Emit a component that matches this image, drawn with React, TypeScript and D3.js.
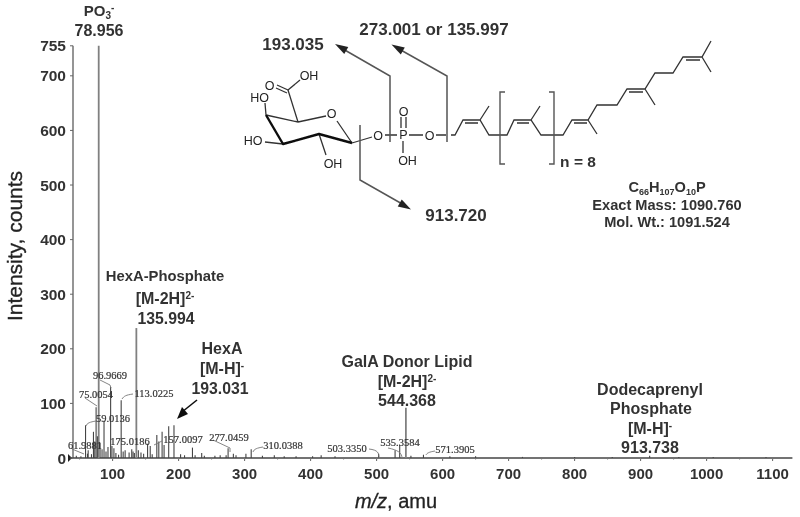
import React from "react";
import * as d3 from "d3";

const xTicks = [100, 200, 300, 400, 500, 600, 700, 800, 900, 1000, 1100];
const yTicks = [0, 100, 200, 300, 400, 500, 600, 700, 755];
const mainMz = [78.956, 135.994, 544.368];
const mainInt = [755, 238, 92];
const peakMz = [45, 52, 59, 61.9, 63, 68, 71, 73, 75, 77, 81, 84, 87, 90, 93, 97, 99, 102, 105, 109, 113, 116, 119, 125, 129, 131, 133, 139, 143, 147, 153, 157, 160, 167, 170, 175, 178, 185, 193, 203, 209, 221, 225, 235, 239, 255, 263, 272, 275, 283, 287, 302, 310, 327, 345, 360, 378, 403, 416, 437, 503, 528, 535, 552, 571, 611, 650, 721, 800, 857, 913.7, 958, 1010, 1090];
const peakInt = [4, 3, 60, 8, 14, 7, 48, 30, 93, 40, 28, 16, 68, 12, 20, 130, 22, 18, 9, 6, 106, 12, 14, 10, 16, 12, 9, 14, 10, 8, 26, 22, 7, 42, 30, 48, 24, 58, 60, 7, 5, 19, 5, 9, 4, 4, 5, 5, 18, 8, 5, 8, 16, 4, 5, 3, 3, 3, 5, 3, 8, 14, 24, 4, 6, 3, 3, 2, 2, 2, 4, 2, 2, 2];
const smallLabels = ["96.9669", "75.0054", "113.0225", "59.0136", "61.9881", "175.0186", "157.0097", "277.0459", "310.0388", "503.3350", "535.3584", "571.3905"];
const smallLabelX = [110, 96, 154, 113, 85, 130, 183, 229, 283, 347, 400, 455];
const smallLabelY = [379, 398, 397, 422, 449, 445, 443, 441, 449, 452, 446, 453];
const leaders = [
  "M100 380 L110 385 L111 388", "M85 398 L97 406", "M133 394 C126 395 124 396 122 399",
  "M96 421 C90 422 87 423 86 426", "M72 449 L84 454", "M162 441 L154 445", "M213 440 L230 448 L230 452",
  "M263 447 C257 448 254 449 253 452", "M369 449 C378 450 379 453 379 458",
  "M388 448 C398 450 402 453 402 458", "M435 451 C429 452 427 453 426 455",
];
const bold = [
  { t: "HexA-Phosphate", x: 165, y: 281, s: 14.8 }, { t: "135.994", x: 166, y: 324, s: 15.8 },
  { t: "HexA", x: 222, y: 354, s: 16 }, { t: "193.031", x: 220, y: 394, s: 15.8 },
  { t: "GalA Donor Lipid", x: 407, y: 367, s: 16 }, { t: "544.368", x: 407, y: 406, s: 16 },
  { t: "Dodecaprenyl", x: 650, y: 395, s: 16 }, { t: "Phosphate", x: 651, y: 414, s: 16 },
  { t: "913.738", x: 650, y: 453, s: 16 }, { t: "78.956", x: 99, y: 36, s: 16 },
  { t: "193.035", x: 293, y: 50, s: 17 }, { t: "273.001 or 135.997", x: 434, y: 35, s: 17 },
  { t: "913.720", x: 456, y: 221, s: 17 }, { t: "n = 8", x: 578, y: 167, s: 15.5 },
  { t: "Exact Mass: 1090.760", x: 667, y: 210, s: 14.6 }, { t: "Mol. Wt.: 1091.524", x: 667, y: 227, s: 14.6 },
];
const sup = [
  { a: "[M-2H]", b: "2-", x: 165, y: 304 }, { a: "[M-H]", b: "-", x: 222, y: 374 },
  { a: "[M-2H]", b: "2-", x: 407, y: 387 }, { a: "[M-H]", b: "-", x: 650, y: 434 },
];
const atoms = [
  { t: "O", x: 269.5, y: 85 }, { t: "OH", x: 309, y: 75.5 }, { t: "HO", x: 259.5, y: 97.5 },
  { t: "O", x: 331.5, y: 113.5 }, { t: "HO", x: 253, y: 140.5 }, { t: "OH", x: 333, y: 163 },
  { t: "O", x: 378, y: 135.5 }, { t: "P", x: 403.5, y: 134.5 }, { t: "O", x: 403.5, y: 111 },
  { t: "OH", x: 407.5, y: 160 }, { t: "O", x: 429.5, y: 135 },
];
const thin = [
  "M352 143 L337 121", "M326 116 L298 122", "M298 122 L266 115", "M298 122 L288 90",
  "M288 90 L277 85 M287 93 L276 88", "M288 90 L300 80", "M266 115 L265 103",
  "M283 144 L265 142", "M319 134 L326 155", "M352 143 L372 137",
  "M385 135 L397 135", "M401 128 L401 117 M406 128 L406 117", "M403 141 L403 153",
  "M409 135 L423 135", "M436 135 L446 135",
  "M451 135 L455 135 L463 120 L480 120 L489 135 L507 135 L514 120 L531 120 L541 135 L563 135 L572 120 L588 120 L597 105 L617 105 L627 89 L645 89 L655 73 L673 73 L683 57 L702 57 L711 41",
  "M465 123 L478 123 M517 123 L529 123 M574 123 L587 123 M629 92 L643 92 M686 60 L700 60",
  "M480 120 L489 106 M531 120 L540 106 M588 120 L597 134 M645 89 L655 105 M702 57 L711 72",
];
const cuts = [
  { d: "M360 125 L360 180 L404 205", ax: 411, ay: 209.5, r: 30 },
  { d: "M390 142 L390 76 L343 49", ax: 335, ay: 44, r: 210 },
  { d: "M447 142 L447 76 L399 49", ax: 391.5, ay: 44.5, r: 210 },
];
const ink = "#333";

export default function App() {
  const x = d3.scaleLinear().domain([40, 1130]).range([73, 792.4]);
  const y = d3.scaleLinear().domain([0, 755]).range([458, 45.8]);
  const minor = d3.range(50, 1130, 10).filter((v) => v % 50 === 0);
  const sans = "'Liberation Sans', Arial, sans-serif";
  return (
    <svg width={800} height={517} viewBox="0 0 800 517"
      style={{ position: "absolute", left: 0, top: 0, background: "#fff" }} fontFamily={sans}>
      <defs>
        <filter id="soft" x="-2%" y="-2%" width="104%" height="104%">
          <feGaussianBlur stdDeviation="0.55" />
        </filter>
      </defs>
      <g filter="url(#soft)">
        <line x1={x(40)} x2={x(40)} y1={y(0)} y2={y(755)} stroke="#8a8a8a" strokeWidth={1.8} />
        <line x1={x(40) - 4} x2={x(1130)} y1={y(0)} y2={y(0)} stroke="#444" strokeWidth={1.4} />
        <path d={`M${x(40) - 5} ${y(0) - 4} L${x(40) - 1} ${y(0)} L${x(40) - 5} ${y(0) + 4} Z`} fill="#222" />
        {yTicks.map((t) => (
          <g key={t}>
            <line x1={x(40) - 3} x2={x(40)} y1={y(t)} y2={y(t)} stroke="#666" />
            <text x={x(40) - 7} y={y(t) + 5.5} textAnchor="end" fontSize={15.5} fontWeight="bold" fill={ink}>{t}</text>
          </g>
        ))}
        {xTicks.map((t) => (
          <g key={t}>
            <line x1={x(t)} x2={x(t)} y1={y(0)} y2={y(0) + 3} stroke="#666" />
            <text x={x(t)} y={479} textAnchor="middle" fontSize={15} fontWeight="bold" fill={ink}>{t}</text>
          </g>
        ))}
        {minor.map((t) => <line key={t} x1={x(t)} x2={x(t)} y1={y(0)} y2={y(0) + 1.5} stroke="#777" />)}
        <text transform="translate(22,246) rotate(-90)" textAnchor="middle" fontSize={21} fill="#222" stroke="#222" strokeWidth={0.3}>Intensity, counts</text>
        <text x={396} y={508} textAnchor="middle" fontSize={20} fill="#222" stroke="#222" strokeWidth={0.3}>
          <tspan fontStyle="italic">m/z</tspan>, amu
        </text>
        {peakMz.map((m, i) => (
          <line key={m} x1={x(m)} x2={x(m)} y1={y(0)} y2={y(peakInt[i])} stroke="#444" strokeWidth={1.1} />
        ))}
        {mainMz.map((m, i) => (
          <line key={m} x1={x(m)} x2={x(m)} y1={y(0)} y2={y(mainInt[i])} stroke="#808080" strokeWidth={1.8} />
        ))}
        <path d={leaders.join(" ")} fill="none" stroke="#777" strokeWidth={0.9} />
        {smallLabels.map((t, i) => (
          <text key={t} x={smallLabelX[i]} y={smallLabelY[i]} textAnchor="middle" fontSize={10.5}
            fontFamily="'Liberation Serif', serif" fill="#333" stroke="#333" strokeWidth={0.2}>{t}</text>
        ))}
        {bold.map((b) => (
          <text key={b.t} x={b.x} y={b.y} textAnchor="middle" fontSize={b.s} fontWeight="bold" fill={ink}>{b.t}</text>
        ))}
        {sup.map((s, i) => (
          <text key={i} x={s.x} y={s.y} textAnchor="middle" fontSize={16} fontWeight="bold" fill={ink}>
            {s.a}<tspan fontSize={10} dy={-5}>{s.b}</tspan>
          </text>
        ))}
        <text x={99} y={16} textAnchor="middle" fontSize={15} fontWeight="bold" fill={ink}>
          PO<tspan fontSize={10} dy={3}>3</tspan><tspan fontSize={10} dy={-8}>-</tspan>
        </text>
        <text x={667} y={192} textAnchor="middle" fontSize={14.6} fontWeight="bold" fill={ink}>
          C<tspan fontSize={9} dy={2.5}>66</tspan><tspan dy={-2.5}>H</tspan><tspan fontSize={9} dy={2.5}>107</tspan><tspan dy={-2.5}>O</tspan><tspan fontSize={9} dy={2.5}>10</tspan><tspan dy={-2.5}>P</tspan>
        </text>
        <path d="M197 400 L182 412" stroke="#111" strokeWidth={1.6} />
        <path d="M177 419 L188 414 L182 407 Z" fill="#111" />
        <path d={thin.join(" ")} fill="none" stroke="#333" strokeWidth={1.3} />
        <path d="M266 115 L283 144 L319 134 L352 143" fill="none" stroke="#111" strokeWidth={2.4} strokeLinejoin="round" />
        {atoms.map((a, i) => (
          <text key={i} x={a.x} y={a.y + 4.5} textAnchor="middle" fontSize={12.5} fill="#222">{a.t}</text>
        ))}
        <path d="M505 92 L500 92 L500 164 L505 164 M549 92 L554 92 L554 164 L549 164" fill="none" stroke="#555" strokeWidth={1.4} />
        {cuts.map((c, i) => (
          <g key={i}>
            <path d={c.d} fill="none" stroke="#555" strokeWidth={1.5} />
            <path d="M0 0 L-13 -4 L-13 4 Z" fill="#222" transform={`translate(${c.ax},${c.ay}) rotate(${c.r})`} />
          </g>
        ))}
      </g>
    </svg>
  );
}
